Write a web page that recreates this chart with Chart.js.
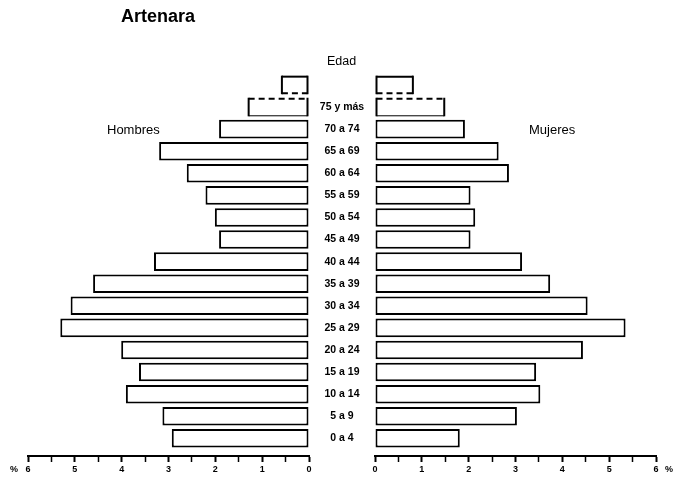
<!DOCTYPE html>
<html>
<head>
<meta charset="utf-8">
<script src="https://cdn.jsdelivr.net/npm/chart.js@4.4.1/dist/chart.umd.min.js"></script>
<style>
body{margin:0;background:#fff;}
#wrap{position:relative;width:675px;height:480px;overflow:hidden;font-family:"Liberation Sans",Arial,sans-serif;color:#000;}
canvas{position:absolute;top:0;}
.txt{position:absolute;white-space:nowrap;line-height:1;}
</style>
</head>
<body>
<div id="wrap">
<canvas id="left" width="320" height="480" style="left:0"></canvas>
<canvas id="right" width="366" height="480" style="left:309px"></canvas>
<div class="txt" style="left:121px;top:7px;font-size:18px;font-weight:bold">Artenara</div>
<div class="txt" style="left:327px;top:55px;font-size:12.5px">Edad</div>
<div class="txt" style="left:107px;top:123px;font-size:13px">Hombres</div>
<div class="txt" style="left:529px;top:123px;font-size:13px">Mujeres</div>
<div class="txt" style="left:10px;top:465px;font-size:9px;font-weight:bold">%</div>
<div class="txt" style="left:665px;top:465px;font-size:9px;font-weight:bold">%</div>
</div>
<script>

// age groups, bottom to top (top row has no label)
const ages = ['0 a 4','5 a 9','10 a 14','15 a 19','20 a 24','25 a 29','30 a 34','35 a 39',
'40 a 44','45 a 49','50 a 54','55 a 59','60 a 64','65 a 69','70 a 74','75 y más',''];

const hombres = [2.93,3.13,3.91,3.63,4.01,5.31,5.09,4.61,3.31,1.92,2.01,2.21,2.61,3.2,1.92,1.31,0.6];
const mujeres = [1.81,3.03,3.53,3.44,4.44,5.35,4.54,3.74,3.14,2.04,2.14,2.04,2.86,2.64,1.92,1.5,0.83];

const pctMin = 0;
const pctMax = 6;

const FONT = '"Liberation Sans", Arial, sans-serif';

// rows drawn with a dashed edge instead of the normal box
const dashTop = 15;
const dashBottom = 16;

const outlinePlugin = {
id:'outline',
afterDatasetsDraw(chart){
const ctx = chart.ctx;
const meta = chart.getDatasetMeta(0);
[dashTop,dashBottom].forEach(i=>{
const bar = meta.data[i];
if(!bar) return;
const p = bar.getProps(['x','y','base','height'],true);
const l = Math.min(p.x,p.base)+1, r = Math.max(p.x,p.base)-1;
const t = p.y-p.height/2+1, b = p.y+p.height/2-1;
ctx.save();
ctx.strokeStyle = '#000';
ctx.lineWidth = 2;
const edge = (x1,y1,x2,y2,dash)=>{
ctx.setLineDash(dash);
ctx.beginPath();
ctx.moveTo(x1,y1);
ctx.lineTo(x2,y2);
ctx.stroke();
};
edge(l,t-1,l,b+1,[]);
edge(r,t-1,r,b+1,[]);
edge(l,t,r,t,i===dashTop?[6,4]:[]);
if(i===dashTop){
ctx.lineWidth = 1;
edge(l,b+0.5,r,b+0.5,[]);
}else{
edge(l,b,r,b,[6,4]);
}
ctx.restore();
});
}
};

function makeChart(id, values, side){

const data = values.map((v,i)=>({x:v,y:i}));

const xScale = {
type:'linear',
min:pctMin,
max:pctMax,
reverse: side==='left',
afterFit(s){ s.height = 24; },
border:{display:true,color:'#000',width:2},
grid:{
drawOnChartArea:false,
drawTicks:true,
tickLength:6,
tickColor:'#000',
tickWidth:c => Number.isInteger(c.tick.value) ? 2 : 1.5
},
ticks:{
stepSize:0.5,
autoSkip:false,
maxRotation:0,
padding:2,
color:'#000',
font:{family:FONT,size:9,weight:'bold'},
callback:v => Number.isInteger(v) ? v : ''
}
};

const yScale = {
type:'linear',
min:-0.8,
max:16.54,
offset:false,
display: side==='right',
position:'left',
afterFit(s){ s.width = side==='right' ? 66 : 0; },
border:{display:false},
grid:{display:false,drawTicks:false},
ticks:{
stepSize:1,
includeBounds:false,
autoSkip:false,
crossAlign:'center',
padding:labelPad,
color:'#000',
font:{family:FONT,size:10.5,weight:'bold'},
callback:v => ages[v] ?? ''
}
};

return new Chart(document.getElementById(id),{
type:'bar',
data:{
labels:ages.map((a,i)=>i),
datasets:[{
data:data,
backgroundColor:'#fff',
borderColor:'#000',
borderWidth:c => (c.dataIndex===dashTop||c.dataIndex===dashBottom) ? 0 : 2,
borderSkipped:false,
barPercentage:0.84,
categoryPercentage:1
}]
},
options:{
indexAxis:'y',
responsive:false,
animation:false,
devicePixelRatio:1,
layout:{padding: side==='left' ? {top:73,left:28,right:11,bottom:0} : {top:73,left:0,right:19,bottom:0}},
plugins:{legend:{display:false},tooltip:{enabled:false}},
scales:{x:xScale,y:yScale}
},
plugins:[outlinePlugin]
});

}

// centre the age labels in the gap between the two halves
const m = document.createElement('canvas').getContext('2d');
m.font = 'bold 10.5px ' + FONT;
const widest = Math.max(...ages.map(a => m.measureText(a).width));
const labelPad = 33 - widest/2;

makeChart('left', hombres, 'left');
makeChart('right', mujeres, 'right');

</script>
</body>
</html>
